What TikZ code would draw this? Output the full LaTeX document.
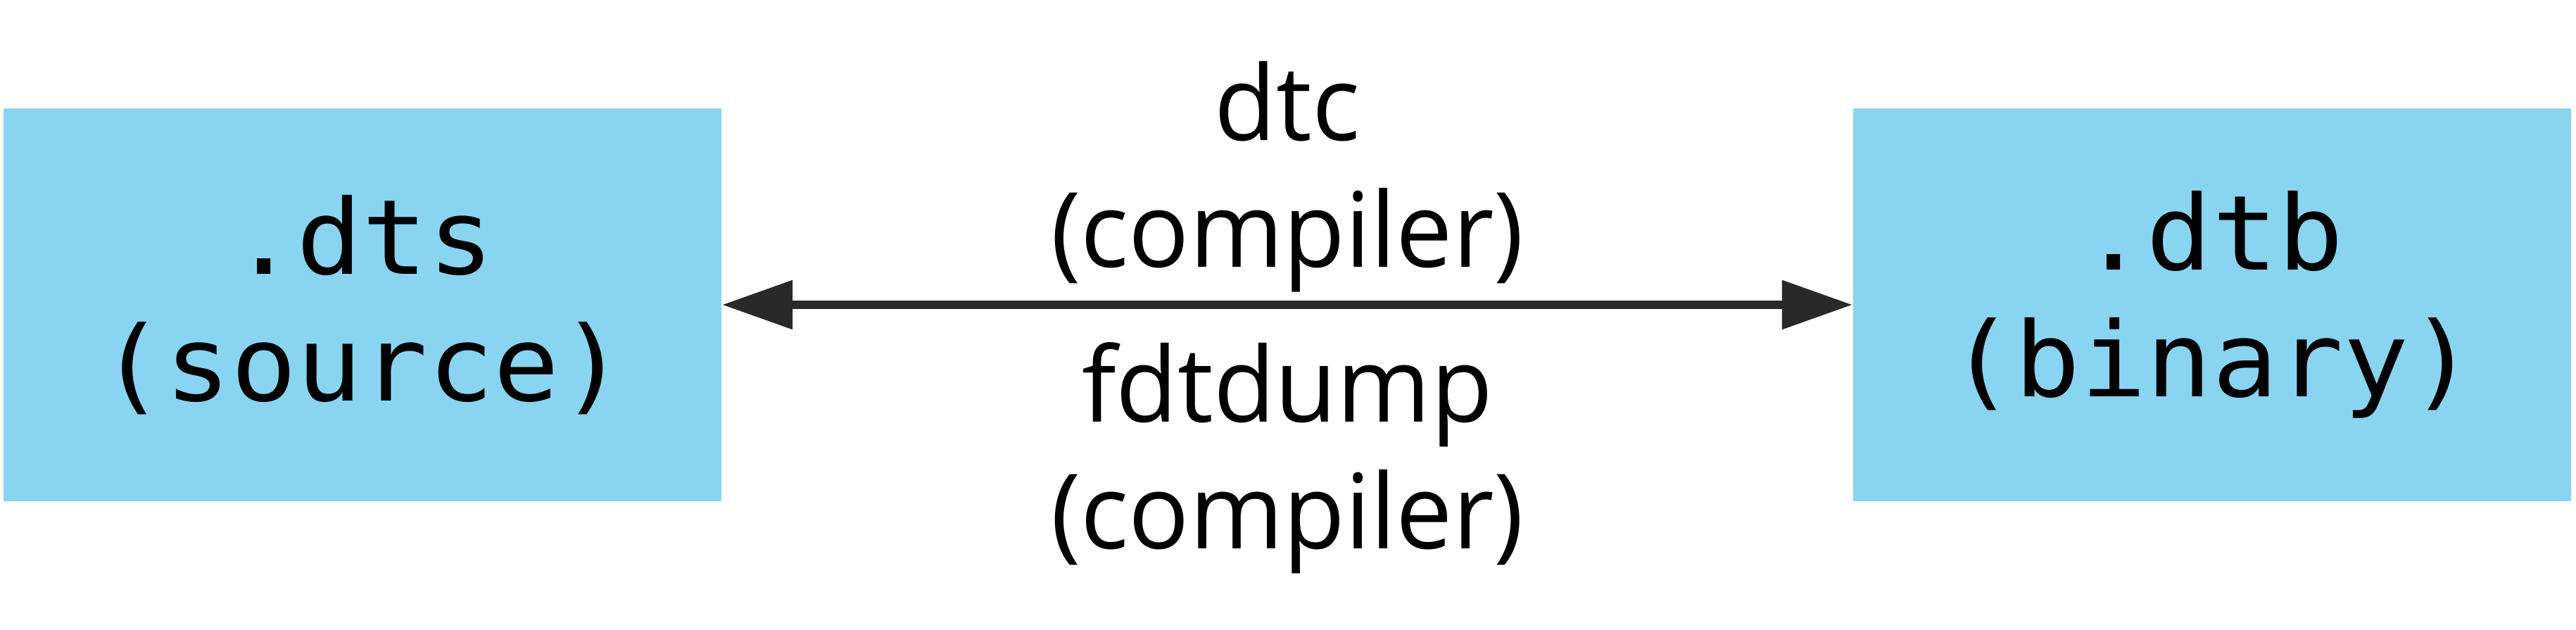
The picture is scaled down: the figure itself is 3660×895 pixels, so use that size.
\documentclass[tikz,border=0pt]{standalone}
\usepackage{fontspec}
\setsansfont[FakeStretch=0.97]{Open Sans}
\setmonofont[FakeStretch=1.05]{DejaVu Sans Mono}
\usetikzlibrary{arrows.meta}
\definecolor{boxblue}{RGB}{137,212,240}
\definecolor{arrowgray}{RGB}{41,41,41}
\tikzset{
  filebox/.style={rectangle, fill=boxblue, minimum width=10.2cm, minimum height=5.58cm, inner sep=0pt, align=center, font=\fontsize{42}{51.2}\selectfont\ttfamily},
  tool/.style={inner sep=0pt, align=center, font=\fontsize{42}{51.2}\selectfont\sffamily},
  >={Triangle[length=1cm, width=0.67cm]}
}
\begin{document}
\begin{tikzpicture}[x=0.01cm, y=-0.01cm]
\useasboundingbox (0,0) rectangle (3660,895);
\node[filebox] (dts) at (515,433){.dts\\(source)};
\node[filebox] (dtb) at (3143,433){.dtb\\(binary)};
\draw[arrowgray, line width=0.12cm, <->] (dts) -- (dtb);
\node[tool, anchor=south] (dtc) at (1829,416){dtc\\(compiler)};
\node[tool, anchor=north] (fdtdump) at (1829,486){fdtdump\\(compiler)};
\end{tikzpicture}
\end{document}
